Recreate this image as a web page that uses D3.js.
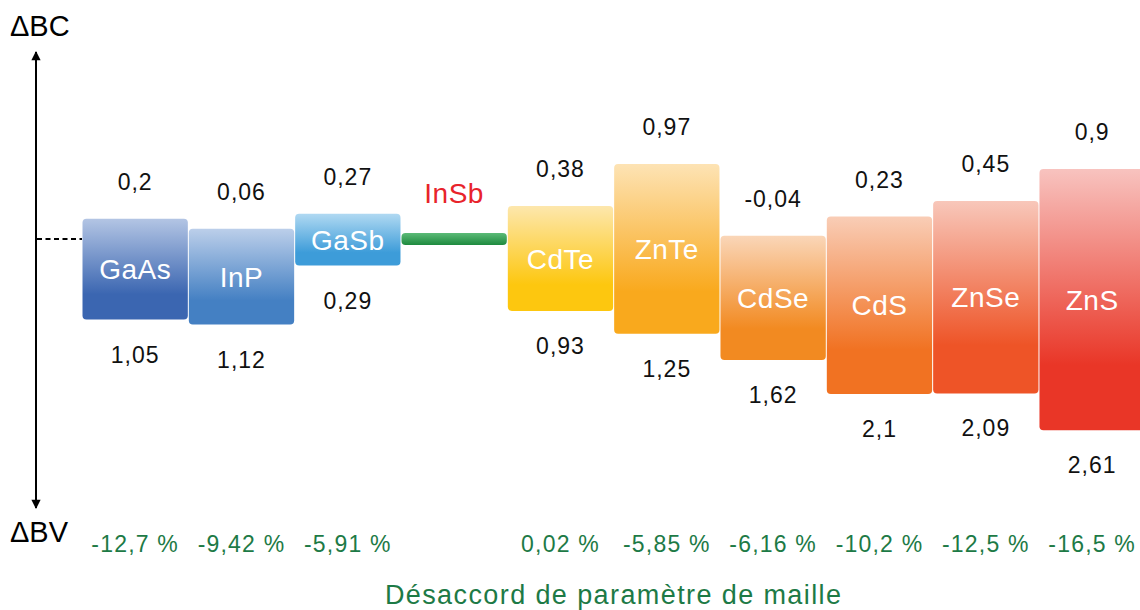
<!DOCTYPE html>
<html>
<head>
<meta charset="utf-8">
<script src="https://cdn.jsdelivr.net/npm/d3@7/dist/d3.min.js"></script>
<style>
  html, body { margin: 0; padding: 0; background: #fff; }
  svg { display: block; font-family: "Liberation Sans", Arial, Helvetica, sans-serif; }
</style>
</head>
<body>
<svg id="chart" width="1140" height="610"></svg>
<script>
// Band offsets of each semiconductor relative to InSb (eV)
const materials = ["GaAs", "InP", "GaSb", "InSb", "CdTe", "ZnTe", "CdSe", "CdS", "ZnSe", "ZnS"];
const deltaBC   = [0.2, 0.06, 0.27, null, 0.38, 0.97, -0.04, 0.23, 0.45, 0.9];
const deltaBV   = [1.05, 1.12, 0.29, null, 0.93, 1.25, 1.62, 2.1, 2.09, 2.61];
// Lattice mismatch with InSb (%)
const mismatch  = [-12.7, -9.42, -5.91, null, 0.02, -5.85, -6.16, -10.2, -12.5, -16.5];
// Band gap of the reference material InSb (eV)
const refGap = 0.17;
const refMaterial = "InSb";

// Gradient colours of each box (top, bottom)
const palette = {
  GaAs: ["#b3c5e4", "#3b66b1"],
  InP:  ["#bccfea", "#4480c3"],
  GaSb: ["#b0d9f2", "#3d9cd9"],
  CdTe: ["#fde7ad", "#fdc70f"],
  ZnTe: ["#fde3b4", "#f9a91d"],
  CdSe: ["#fad6b8", "#f28a21"],
  CdS:  ["#f9cdb6", "#f17222"],
  ZnSe: ["#f8c7ba", "#ee5427"],
  ZnS:  ["#f8c3bf", "#e93627"]
};

const fmt = v => String(v).replace(".", ",");

const svg = d3.select("#chart");
const defs = svg.append("defs");

const x = d3.scaleBand().domain(materials).range([82, 1145.3]).padding(0);
// energy axis: 0 = valence band of InSb
const y = d3.scaleLinear().domain([-3, 3]).range([245 + 3 * 71, 245 - 3 * 71]);

const rows = materials.map((m, i) => ({
  name: m, bc: deltaBC[i], bv: deltaBV[i], mm: mismatch[i]
}));
const boxes = rows.filter(d => d.name !== refMaterial);

// gradients
boxes.forEach(d => {
  const g = defs.append("linearGradient")
    .attr("id", "grad-" + d.name)
    .attr("x1", 0).attr("y1", 0).attr("x2", 0).attr("y2", 1);
  g.append("stop").attr("offset", "0%").attr("stop-color", palette[d.name][0]);
  g.append("stop").attr("offset", "75%").attr("stop-color", palette[d.name][1]);
  g.append("stop").attr("offset", "100%").attr("stop-color", palette[d.name][1]);
});
const gInSb = defs.append("linearGradient").attr("id", "grad-InSb")
  .attr("x1", 0).attr("y1", 0).attr("x2", 0).attr("y2", 1);
gInSb.append("stop").attr("offset", "0%").attr("stop-color", "#5cbb78");
gInSb.append("stop").attr("offset", "100%").attr("stop-color", "#1e8a3e");

const arrow = defs.append("marker").attr("id", "arrow")
  .attr("viewBox", "0 0 10 10").attr("refX", 9).attr("refY", 5)
  .attr("markerWidth", 5.5).attr("markerHeight", 4.6).attr("orient", "auto-start-reverse")
  .attr("markerUnits", "strokeWidth");
arrow.append("path").attr("d", "M0,0 L10,5 L0,10 z").attr("fill", "#000");

// vertical energy arrow
svg.append("line")
  .attr("x1", 36).attr("x2", 36).attr("y1", 52).attr("y2", 508)
  .attr("stroke", "#000").attr("stroke-width", 2)
  .attr("marker-start", "url(#arrow)").attr("marker-end", "url(#arrow)");

svg.append("text").attr("x", 10).attr("y", 35.5)
  .attr("font-size", 29).attr("fill", "#000").text("ΔBC");
svg.append("text").attr("x", 10).attr("y", 541.5)
  .attr("font-size", 29).attr("fill", "#000").text("ΔBV");

// dashed reference line at mid-gap of InSb
svg.append("line")
  .attr("x1", 37).attr("x2", x("GaAs"))
  .attr("y1", y(refGap / 2)).attr("y2", y(refGap / 2))
  .attr("stroke", "#000").attr("stroke-width", 2).attr("stroke-dasharray", "5,3.5");

// material boxes
const bw = x.bandwidth();
const g = svg.append("g");
g.selectAll("rect.box").data(boxes).join("rect")
  .attr("class", "box")
  .attr("x", d => x(d.name) + 0.5)
  .attr("width", bw - 1)
  .attr("y", d => y(refGap + d.bc))
  .attr("height", d => y(-d.bv) - y(refGap + d.bc))
  .attr("rx", 4).attr("ry", 4)
  .attr("fill", d => `url(#grad-${d.name})`);

// InSb reference bar
svg.append("rect")
  .attr("x", x(refMaterial) + 0.5).attr("width", bw - 1)
  .attr("y", y(refGap)).attr("height", y(0) - y(refGap))
  .attr("rx", 4).attr("ry", 4)
  .attr("fill", "url(#grad-InSb)");
svg.append("text")
  .attr("x", x(refMaterial) + bw / 2).attr("y", 202.5)
  .attr("text-anchor", "middle").attr("font-size", 28).attr("fill", "#e8232b")
  .attr("letter-spacing", 0.5)
  .text(refMaterial);

// box names
g.selectAll("text.name").data(boxes).join("text")
  .attr("class", "name")
  .attr("x", d => x(d.name) + bw / 2)
  .attr("y", d => (y(refGap + d.bc) + y(-d.bv)) / 2)
  .attr("dy", "0.36em")
  .attr("text-anchor", "middle").attr("font-size", 28).attr("fill", "#fff")
  .attr("letter-spacing", 0.5)
  .text(d => d.name);

// conduction band offsets
g.selectAll("text.bc").data(boxes).join("text")
  .attr("class", "bc")
  .attr("x", d => x(d.name) + bw / 2)
  .attr("y", d => y(refGap + d.bc) - 29)
  .attr("text-anchor", "middle").attr("font-size", 23).attr("fill", "#111")
  .attr("letter-spacing", 1)
  .text(d => fmt(d.bc));

// valence band offsets
g.selectAll("text.bv").data(boxes).join("text")
  .attr("class", "bv")
  .attr("x", d => x(d.name) + bw / 2)
  .attr("y", d => y(-d.bv) + 43)
  .attr("text-anchor", "middle").attr("font-size", 23).attr("fill", "#111")
  .attr("letter-spacing", 1)
  .text(d => fmt(d.bv));

// lattice mismatch
g.selectAll("text.mm").data(boxes).join("text")
  .attr("class", "mm")
  .attr("x", d => x(d.name) + bw / 2)
  .attr("y", 551.7)
  .attr("text-anchor", "middle").attr("font-size", 23).attr("fill", "#1d7a46")
  .attr("letter-spacing", 1.2)
  .text(d => fmt(d.mm) + " %");

svg.append("text")
  .attr("x", (x.range()[0] + x.range()[1]) / 2).attr("y", 604)
  .attr("text-anchor", "middle").attr("font-size", 27).attr("fill", "#1d7a46")
  .attr("letter-spacing", 1.4)
  .text("Désaccord de paramètre de maille");
</script>
</body>
</html>
